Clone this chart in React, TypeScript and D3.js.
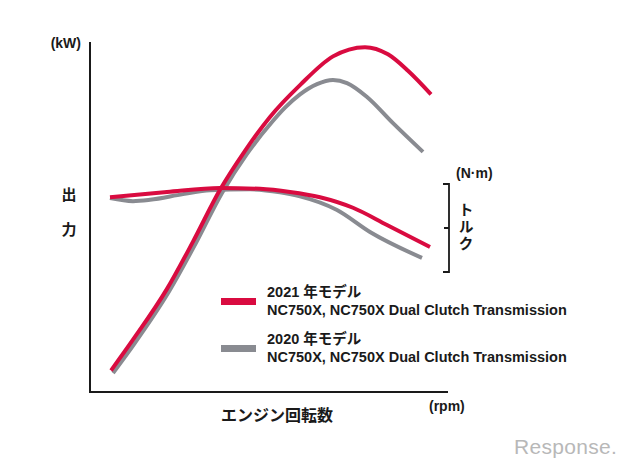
import React from "react";
import * as d3 from "d3";

// ---- Data ----
// Output (kW)
const power2021Rpm = [1525, 2075, 2925, 3575, 4250, 4875, 5500, 6250, 7075, 7875, 8450, 8950, 9525];
const power2021Kw = [12.0, 15.0, 19.95, 24.55, 29.6, 33.4, 36.7, 39.8, 42.6, 43.5, 42.8, 41.2, 38.9];

const power2020Rpm = [1575, 2125, 2975, 3625, 4300, 4925, 5550, 5875, 6250, 6675, 7075, 7425, 7925, 8575, 9325];
const power2020Kw = [11.75, 14.7, 19.7, 24.25, 29.3, 33.1, 36.2, 37.6, 38.9, 39.9, 40.3, 40.0, 38.65, 36.1, 33.3];

// Torque (N·m)
const torque2021Rpm = [1500, 2925, 4250, 5250, 6000, 6750, 7575, 8425, 9500];
const torque2021Nm = [68.5, 69.1, 69.55, 69.45, 69.1, 68.5, 67.3, 65.35, 62.85];

const torque2020Rpm = [1500, 2075, 2500, 3325, 4000, 5000, 5750, 6250, 7175, 8000, 9300];
const torque2020Nm = [68.4, 68.05, 68.2, 68.85, 69.3, 69.4, 69.05, 68.6, 67.05, 64.55, 61.6];

const legendTitles = ["2021 年モデル", "2020 年モデル"];
const legendSub = "NC750X, NC750X Dual Clutch Transmission";
const seriesColors = ["#d90b40", "#898b91"];

const xTitle = "エンジン回転数";
const xUnit = "(rpm)";
const yTitle = ["出", "力"];
const yUnit = "(kW)";
const y2Title = "トルク";
const y2Unit = "(N·m)";

const W = 640;
const H = 471;

const LATIN = "'Liberation Sans', Arial, 'Noto Sans CJK JP', sans-serif";
const CJK = "'Noto Sans CJK JP', 'Liberation Sans', sans-serif";

export default function App() {
  const x = d3.scaleLinear().domain([1000, 9950]).range([90, 448]);
  const yP = d3.scaleLinear().domain([10, 44]).range([391, 42]);
  const yT = d3.scaleLinear().domain([60, 70]).range([272, 184]);

  const zip = (a: number[], b: number[]) => a.map((v, i) => [v, b[i]] as [number, number]);

  const lineP = d3
    .line<[number, number]>()
    .x((d) => x(d[0]))
    .y((d) => yP(d[1]))
    .curve(d3.curveMonotoneX);
  const lineT = d3
    .line<[number, number]>()
    .x((d) => x(d[0]))
    .y((d) => yT(d[1]))
    .curve(d3.curveMonotoneX);

  const [x0, x1] = x.range();
  const [yb, yt] = yP.range();
  const bx = 449;
  const [tb, tt] = yT.range();
  const tMid = yT(65);

  return (
    <svg
      width={W}
      height={H}
      viewBox={`0 0 ${W} ${H}`}
      style={{ position: "absolute", left: 0, top: 0, background: "#fff" }}
    >
      <rect x={0} y={0} width={W} height={H} fill="#fff" />

      {/* axes */}
      <line x1={x0} y1={yt} x2={x0} y2={yb + 1} stroke="#1a1a1a" strokeWidth={2} />
      <line x1={x0 - 1} y1={yb + 1} x2={x1} y2={yb + 1} stroke="#1a1a1a" strokeWidth={2} />

      {/* torque bracket */}
      <path
        d={`M${bx - 6},${tt} H${bx} V${tb} H${bx - 6} M${bx - 5},${tMid} H${bx}`}
        fill="none"
        stroke="#1a1a1a"
        strokeWidth={1.8}
      />

      {/* curves: 2020 (gray) first, then 2021 (red) */}
      <path d={lineT(zip(torque2020Rpm, torque2020Nm)) || ""} fill="none" stroke={seriesColors[1]} strokeWidth={4} />
      <path d={lineP(zip(power2020Rpm, power2020Kw)) || ""} fill="none" stroke={seriesColors[1]} strokeWidth={4} />
      <path d={lineT(zip(torque2021Rpm, torque2021Nm)) || ""} fill="none" stroke={seriesColors[0]} strokeWidth={4} />
      <path d={lineP(zip(power2021Rpm, power2021Kw)) || ""} fill="none" stroke={seriesColors[0]} strokeWidth={4} />

      {/* axis labels */}
      <text x={81} y={48} textAnchor="end" fontFamily={LATIN} fontWeight="bold" fontSize={14} fill="#1a1a1a">
        {yUnit}
      </text>
      {yTitle.map((c, i) => (
        <text
          key={c}
          x={69}
          y={193 + i * 35}
          textAnchor="middle"
          dominantBaseline="central"
          fontFamily={CJK}
          fontWeight="bold"
          fontSize={15}
          fill="#1a1a1a"
        >
          {c}
        </text>
      ))}
      <text x={456} y={178} fontFamily={LATIN} fontWeight="bold" fontSize={14} fill="#1a1a1a">
        {y2Unit}
      </text>
      <text
        x={466}
        y={202}
        fontFamily={CJK}
        fontWeight="bold"
        fontSize={15}
        fill="#1a1a1a"
        letterSpacing={2}
        style={{ writingMode: "vertical-rl" as any }}
      >
        {y2Title}
      </text>
      <text
        x={277}
        y={414}
        textAnchor="middle"
        dominantBaseline="central"
        fontFamily={CJK}
        fontWeight="bold"
        fontSize={16}
        fill="#1a1a1a"
      >
        {xTitle}
      </text>
      <text x={429} y={411} fontFamily={LATIN} fontWeight="bold" fontSize={14} fill="#1a1a1a">
        {xUnit}
      </text>

      {/* legend */}
      {legendTitles.map((t, i) => {
        const top = 297 + i * 47;
        return (
          <g key={t}>
            <rect x={221} y={top + 1} width={35} height={7} fill={seriesColors[i]} />
            <text x={267} y={top} fontFamily={LATIN} fontWeight="bold" fontSize={14.5} fill="#1a1a1a">
              {t}
            </text>
            <text x={267} y={top + 18} fontFamily={LATIN} fontWeight="bold" fontSize={14.5} fill="#1a1a1a">
              {legendSub}
            </text>
          </g>
        );
      })}

      {/* watermark */}
      <text x={514} y={454} fontFamily={LATIN} fontSize={21} fill="#b8b8b8" letterSpacing={0.3}>
        Response.
      </text>
    </svg>
  );
}
